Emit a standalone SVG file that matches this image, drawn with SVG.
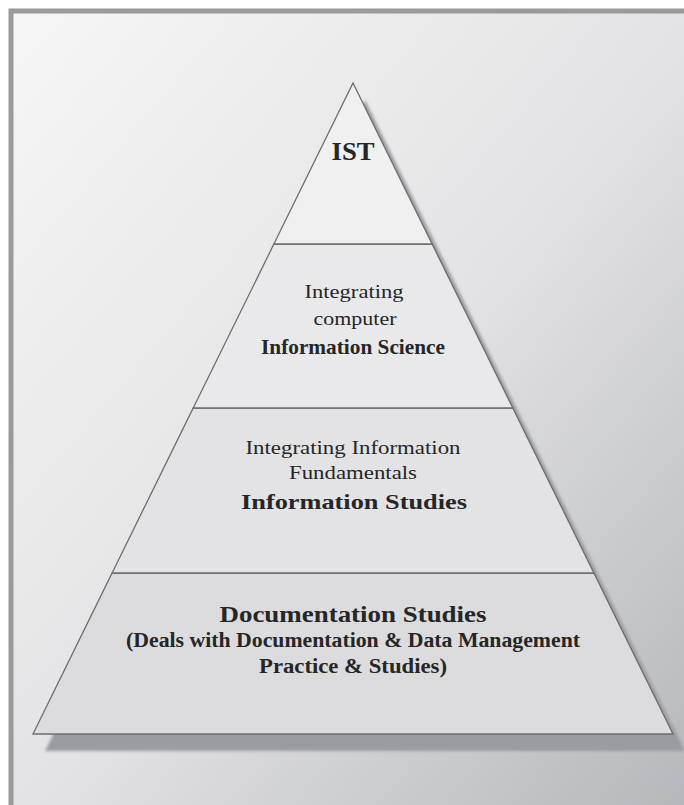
<svg xmlns="http://www.w3.org/2000/svg" width="684" height="805" viewBox="0 0 684 805">
  <defs>
    <linearGradient id="bg" x1="0" y1="0" x2="1" y2="1">
      <stop offset="0" stop-color="#f6f6f6"/>
      <stop offset="0.5" stop-color="#e3e3e5"/>
      <stop offset="1" stop-color="#b2b4b7"/>
    </linearGradient>
    <filter id="blur" x="-0.1" y="-0.1" width="1.2" height="1.2">
      <feGaussianBlur stdDeviation="1.5"/>
    </filter>
    <style>
      .lvl { stroke: #6c6c6c; stroke-width: 1.3; stroke-linejoin: miter; }
      .t { font-family: "Liberation Serif", "Times New Roman", serif; fill: #262626; text-anchor: middle; }
      .b { font-weight: bold; }
    </style>
  </defs>

  <rect x="0" y="0" width="684" height="805" fill="#ffffff"/>
  <rect x="11" y="11" width="700" height="820" fill="url(#bg)" stroke="#999a9c" stroke-width="5"/>

  <polygon points="365,100 685,751 45,751" fill="#9a9ca0" filter="url(#blur)"/>

  <g id="level-documentation">
    <polygon class="lvl" points="112.1,573 593.9,573 673,734 33,734" fill="#dcdcde"/>
    <text class="t b" x="353" y="622" font-size="24" textLength="267" lengthAdjust="spacingAndGlyphs">Documentation Studies</text>
    <text class="t b" x="353" y="647" font-size="20" textLength="454" lengthAdjust="spacingAndGlyphs">(Deals with Documentation &amp; Data Management</text>
    <text class="t b" x="353" y="673" font-size="20" textLength="188" lengthAdjust="spacingAndGlyphs">Practice &amp; Studies)</text>
  </g>

  <g id="level-info-studies">
    <polygon class="lvl" points="193.2,408 512.8,408 593.9,573 112.1,573" fill="#e3e3e5"/>
    <text class="t" x="353" y="454" font-size="19" textLength="215" lengthAdjust="spacingAndGlyphs">Integrating Information</text>
    <text class="t" x="353" y="479" font-size="19" textLength="128" lengthAdjust="spacingAndGlyphs">Fundamentals</text>
    <text class="t b" x="354" y="509" font-size="22" textLength="226" lengthAdjust="spacingAndGlyphs">Information Studies</text>
  </g>

  <g id="level-info-science">
    <polygon class="lvl" points="273.9,244 432.1,244 512.8,408 193.2,408" fill="#e9e9eb"/>
    <text class="t" x="354" y="298" font-size="19" textLength="99" lengthAdjust="spacingAndGlyphs">Integrating</text>
    <text class="t" x="355" y="325" font-size="19" textLength="83" lengthAdjust="spacingAndGlyphs">computer</text>
    <text class="t b" x="353" y="354" font-size="21" textLength="184" lengthAdjust="spacingAndGlyphs">Information Science</text>
  </g>

  <g id="level-ist">
    <polygon class="lvl" points="353,83 432.1,244 273.9,244" fill="#f0f0f1"/>
    <text class="t b" x="353" y="160" font-size="26" textLength="43" lengthAdjust="spacingAndGlyphs">IST</text>
  </g>
</svg>
